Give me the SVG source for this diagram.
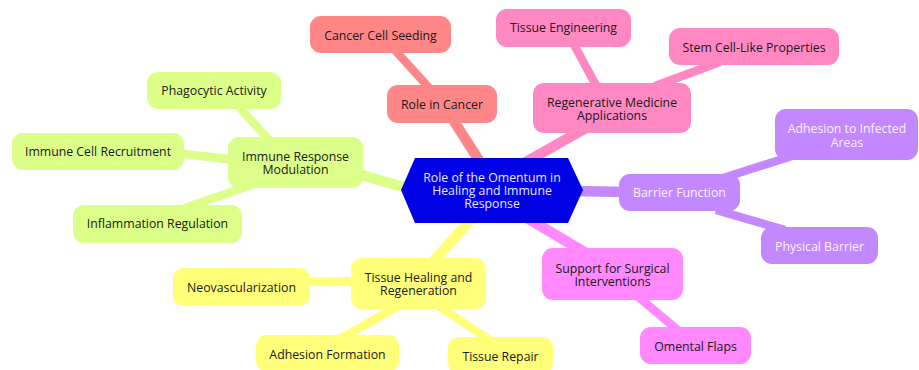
<svg xmlns="http://www.w3.org/2000/svg" width="919" height="370" viewBox="0 0 919 370">
  <style>
    text { font-family: "Open Sans", "Noto Sans", "Liberation Sans", sans-serif; font-size: 12.3px; text-anchor: middle; dominant-baseline: central; fill: #1a1a1a; }
    .edge { fill: none; stroke-linecap: butt; }
    .d1 { stroke-width: 10.5; }
    .d2 { stroke-width: 8.4; }
    .cancer { fill: #ff8686; stroke: #ff8686; }
    .regen { fill: #ff88c3; stroke: #ff88c3; }
    .barrier { fill: #c388ff; stroke: #c388ff; }
    .surg { fill: #ff88ff; stroke: #ff88ff; }
    .heal { fill: #ffff7a; stroke: #ffff7a; }
    .immune { fill: #dbff88; stroke: #dbff88; }
    .edge.cancer, .edge.regen, .edge.barrier, .edge.surg, .edge.heal, .edge.immune { fill: none; }
    rect { stroke-width: 0; }
    .light { fill: #f6f2ff; }
    .root-label { fill: #e8e8ff; }
  </style>

  <!-- branches, drawn beneath the nodes -->
  <g id="connectors">
    <line class="edge d1 cancer" x1="450" y1="115" x2="482" y2="165"/>
    <line class="edge d1 regen" x1="586" y1="128" x2="524" y2="163"/>
    <line class="edge d1 immune" x1="355" y1="173" x2="410" y2="189"/>
    <line class="edge d1 barrier" x1="575" y1="191" x2="627" y2="192"/>
    <line class="edge d1 surg" x1="527" y1="218" x2="586" y2="253"/>
    <line class="edge d1 heal" x1="474" y1="216" x2="430" y2="265"/>

    <line class="edge d2 cancer" x1="392" y1="47" x2="432" y2="91"/>
    <line class="edge d2 regen" x1="572" y1="41" x2="598" y2="89"/>
    <line class="edge d2 regen" x1="655" y1="86" x2="720" y2="62"/>
    <line class="edge d2 barrier" x1="723" y1="178" x2="792" y2="156"/>
    <line class="edge d2 barrier" x1="716" y1="210" x2="785" y2="230"/>
    <line class="edge d2 surg" x1="636" y1="295" x2="680" y2="332"/>
    <line class="edge d2 heal" x1="302" y1="282" x2="359" y2="281"/>
    <line class="edge d2 heal" x1="340" y1="339" x2="400" y2="305"/>
    <line class="edge d2 heal" x1="437" y1="305" x2="491" y2="341"/>
    <line class="edge d2 immune" x1="236" y1="104" x2="272" y2="143"/>
    <line class="edge d2 immune" x1="176" y1="153" x2="236" y2="160"/>
    <line class="edge d2 immune" x1="185" y1="208" x2="254" y2="184"/>
  </g>

  <g id="root">
    <polygon points="401,190 415,158 568,158 583,190 568,223 415,223" fill="#0000e6"/>
    <text class="root-label"><tspan x="492" y="177">Role of the Omentum in</tspan><tspan x="492" y="190">Healing and Immune</tspan><tspan x="492" y="203">Response</tspan></text>
  </g>

  <g id="role-in-cancer">
    <rect class="cancer" x="387" y="85" width="110" height="38" rx="11"/>
    <text x="442" y="104">Role in Cancer</text>
  </g>
  <g id="cancer-cell-seeding">
    <rect class="cancer" x="310" y="16" width="141" height="37" rx="11"/>
    <text x="380.5" y="35">Cancer Cell Seeding</text>
  </g>

  <g id="regenerative-medicine">
    <rect class="regen" x="533" y="83" width="158" height="50" rx="11"/>
    <text><tspan x="612" y="102">Regenerative Medicine</tspan><tspan x="612" y="115">Applications</tspan></text>
  </g>
  <g id="tissue-engineering">
    <rect class="regen" x="496" y="9" width="135" height="38" rx="11"/>
    <text x="563.5" y="27">Tissue Engineering</text>
  </g>
  <g id="stem-cell">
    <rect class="regen" x="669" y="28" width="170" height="37" rx="11"/>
    <text x="754" y="47">Stem Cell-Like Properties</text>
  </g>

  <g id="barrier-function">
    <rect class="barrier" x="619" y="174" width="121" height="37" rx="11"/>
    <text class="light" x="679.5" y="192">Barrier Function</text>
  </g>
  <g id="adhesion-infected">
    <rect class="barrier" x="775" y="109" width="143" height="51" rx="11"/>
    <text class="light"><tspan x="847" y="128">Adhesion to Infected</tspan><tspan x="847" y="142">Areas</tspan></text>
  </g>
  <g id="physical-barrier">
    <rect class="barrier" x="761" y="227" width="117" height="37" rx="11"/>
    <text class="light" x="819.5" y="246">Physical Barrier</text>
  </g>

  <g id="surgical-support">
    <rect class="surg" x="542" y="248" width="141" height="52" rx="11"/>
    <text><tspan x="612.5" y="268">Support for Surgical</tspan><tspan x="612.5" y="281">Interventions</tspan></text>
  </g>
  <g id="omental-flaps">
    <rect class="surg" x="640" y="327" width="111" height="37" rx="11"/>
    <text x="695.5" y="346">Omental Flaps</text>
  </g>

  <g id="tissue-healing">
    <rect class="heal" x="351" y="258" width="135" height="51" rx="11"/>
    <text><tspan x="418.5" y="277">Tissue Healing and</tspan><tspan x="418.5" y="290">Regeneration</tspan></text>
  </g>
  <g id="neovascularization">
    <rect class="heal" x="173" y="268" width="137" height="38" rx="11"/>
    <text x="241.5" y="287">Neovascularization</text>
  </g>
  <g id="adhesion-formation">
    <rect class="heal" x="256" y="335" width="143" height="37" rx="11"/>
    <text x="327.5" y="354">Adhesion Formation</text>
  </g>
  <g id="tissue-repair">
    <rect class="heal" x="448" y="337" width="105" height="37" rx="11"/>
    <text x="500.5" y="356">Tissue Repair</text>
  </g>

  <g id="immune-response">
    <rect class="immune" x="228" y="137" width="135" height="51" rx="11"/>
    <text><tspan x="295.5" y="156">Immune Response</tspan><tspan x="295.5" y="169">Modulation</tspan></text>
  </g>
  <g id="phagocytic-activity">
    <rect class="immune" x="147" y="72" width="134" height="37" rx="11"/>
    <text x="214" y="90">Phagocytic Activity</text>
  </g>
  <g id="immune-cell-recruitment">
    <rect class="immune" x="12" y="133" width="172" height="37" rx="11"/>
    <text x="98" y="151">Immune Cell Recruitment</text>
  </g>
  <g id="inflammation-regulation">
    <rect class="immune" x="73" y="205" width="169" height="38" rx="11"/>
    <text x="157.5" y="223">Inflammation Regulation</text>
  </g>
</svg>
